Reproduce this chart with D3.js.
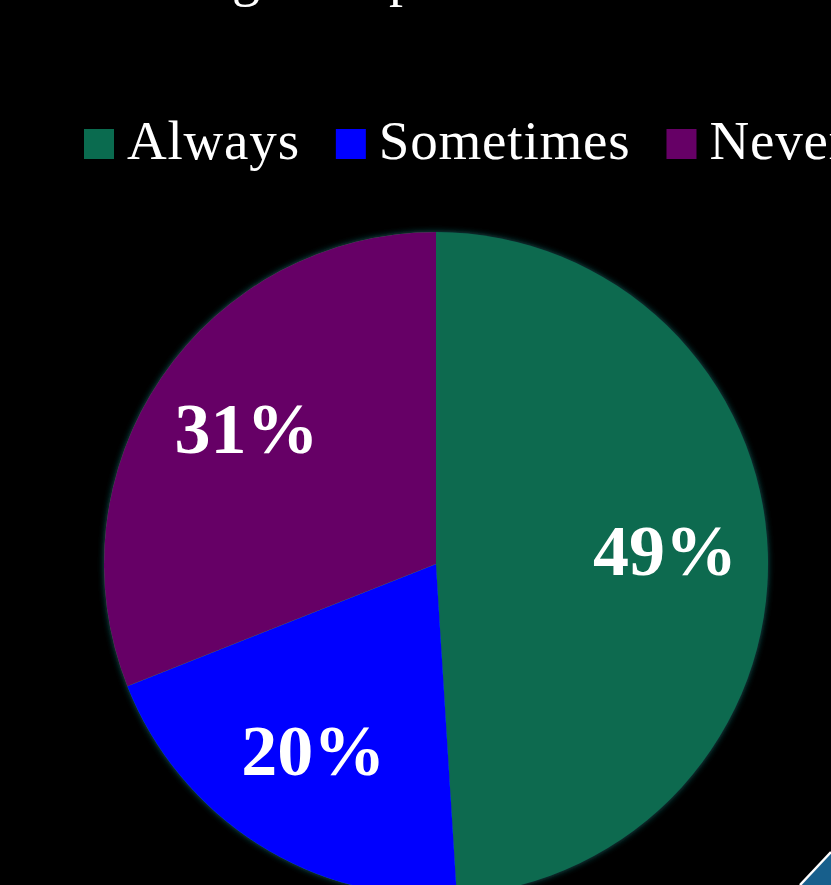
<!DOCTYPE html>
<html>
<head>
<meta charset="utf-8">
<script src="https://cdn.jsdelivr.net/npm/d3@7"></script>
<style>
  html, body { margin: 0; padding: 0; background: #000; }
  svg { display: block; }
</style>
</head>
<body>
<svg id="chart"></svg>
<script>
const categories = ["Always", "Sometimes", "Never"];
const shares = [49, 20, 31];
const colors = ["#0a6b4f", "#0000ff", "#660066"];
const titleText = "Reading Group";

const width = 831, height = 885;
const cx = 436, cy = 564, radius = 332;

const svg = d3.select("#chart")
  .attr("width", width)
  .attr("height", height)
  .style("background", "#000");

// soft teal glow round the pie
const defs = svg.append("defs");
const glow = defs.append("filter").attr("id", "glow")
  .attr("x", "-10%").attr("y", "-10%").attr("width", "120%").attr("height", "120%");
glow.append("feDropShadow")
  .attr("dx", 0).attr("dy", 0).attr("stdDeviation", 3)
  .attr("flood-color", "#1f7f7f").attr("flood-opacity", 0.7);

// title, only its descenders show at the top edge
const title = svg.append("text")
  .attr("x", 0).attr("y", -5)
  .attr("font-family", "Liberation Serif, serif")
  .attr("font-size", 56)
  .attr("fill", "#fff")
  .text(titleText);
const gPos = title.node().getStartPositionOfChar(titleText.indexOf("g"));
title.attr("x", 232 - gPos.x);

// legend
const legend = svg.append("g").attr("transform", "translate(84,129)");
let lx = 0;
categories.forEach((c, i) => {
  const item = legend.append("g").attr("transform", `translate(${lx},0)`);
  item.append("rect")
    .attr("width", 30).attr("height", 30)
    .attr("fill", colors[i]);
  const t = item.append("text")
    .attr("x", 43).attr("y", 30)
    .attr("font-family", "Liberation Serif, serif")
    .attr("font-size", 55)
    .attr("letter-spacing", 0.8)
    .attr("fill", "#fff")
    .text(c);
  lx += 43 + t.node().getComputedTextLength() + 36;
});

// pie
const pie = d3.pie().sort(null).value(d => d)(shares);
const arc = d3.arc().innerRadius(0).outerRadius(radius);
const labelArc = d3.arc().innerRadius(radius * 0.69).outerRadius(radius * 0.69);

const g = svg.append("g").attr("transform", `translate(${cx},${cy})`);
g.append("g").attr("filter", "url(#glow)")
  .selectAll("path")
  .data(pie).enter()
  .append("path")
  .attr("d", arc)
  .attr("fill", (d, i) => colors[i]);

const fmt = d3.format(".0%");
g.selectAll(".lbl")
  .data(pie).enter()
  .append("text")
  .attr("class", "lbl")
  .attr("transform", d => `translate(${labelArc.centroid(d)})`)
  .attr("text-anchor", "middle")
  .attr("dy", "0.25em")
  .attr("font-family", "Liberation Serif, serif")
  .attr("font-weight", "bold")
  .attr("font-size", 72)
  .attr("fill", "#fff")
  .text(d => fmt(d.data / 100));

// slide corner decoration
const corner = svg.append("g").attr("transform", `translate(${width},${height})`);
corner.append("path")
  .attr("d", "M-30,0 L0,-32 L0,0 Z")
  .attr("fill", "#175f8c");
corner.append("path")
  .attr("d", "M-31,0 L0,-33")
  .attr("stroke", "#fff").attr("stroke-width", 2.5)
  .attr("fill", "none");
</script>
</body>
</html>
